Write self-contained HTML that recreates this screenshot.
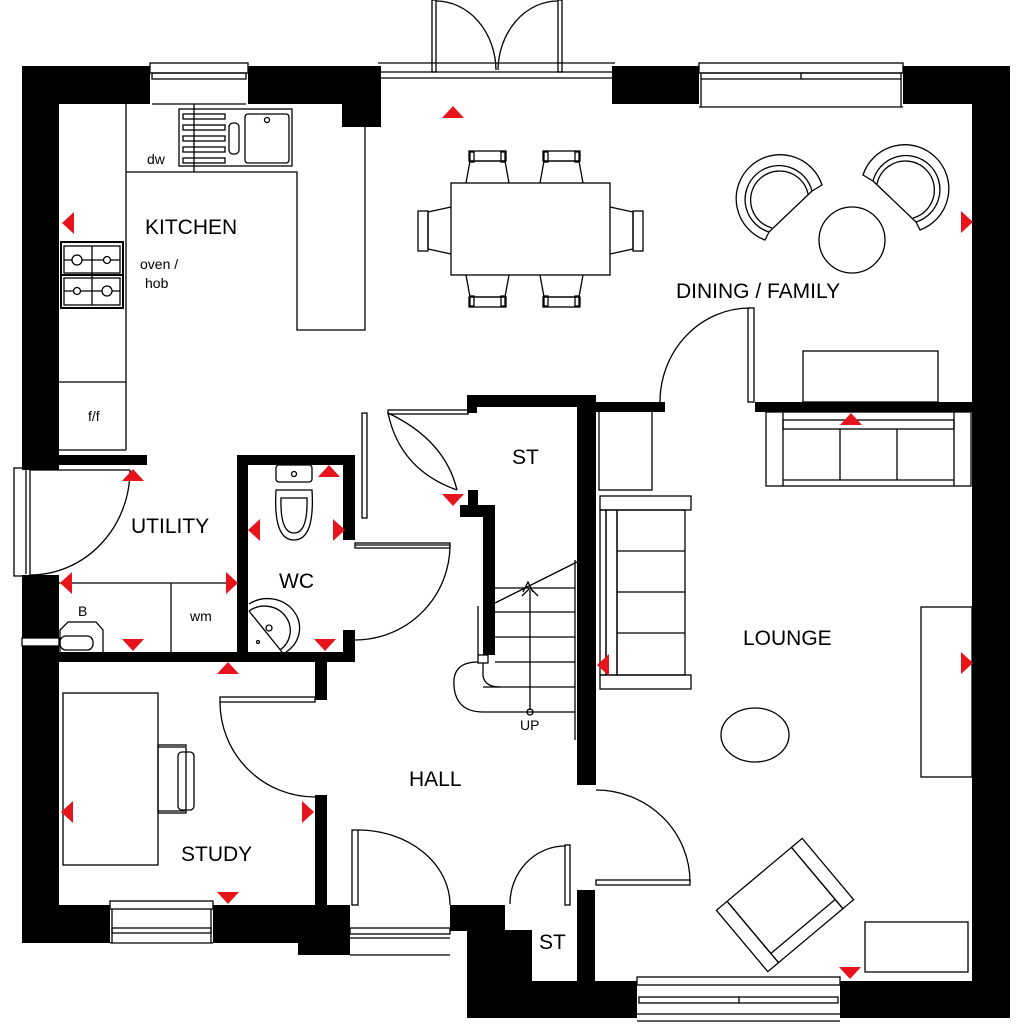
<!DOCTYPE html>
<html><head><meta charset="utf-8"><style>
html,body{margin:0;padding:0;background:#fff}
svg{display:block}
text{font-family:"Liberation Sans",Arial,sans-serif;fill:#000}
</style></head><body>
<svg width="1024" height="1024" viewBox="0 0 1024 1024" xmlns="http://www.w3.org/2000/svg">
<defs>
<polygon id="tu" points="-11,6 11,6 0,-6" fill="#e8141c"/>
<g id="arm" fill="none" stroke="#000" stroke-width="1.3">
<path d="M765,240 A44,44 0 1 1 822,185 L812,191 A34,34 0 1 0 769,232 Z"/>
<path d="M772,228 A29,29 0 1 1 808,194"/>
<line x1="769" y1="232" x2="812" y2="191"/>
</g>
</defs>
<rect width="1024" height="1024" fill="#fff"/>
<g fill="#000">
<rect x="22" y="66" width="128" height="38"/>
<rect x="248" y="66" width="133" height="38"/>
<rect x="342" y="100" width="39" height="27"/>
<rect x="612" y="66" width="87" height="38"/>
<rect x="903" y="66" width="107" height="38"/>
<rect x="972" y="66" width="38" height="952"/>
<rect x="22" y="66" width="37" height="404"/>
<rect x="22" y="575" width="37" height="63"/>
<rect x="22" y="646" width="37" height="297"/>
<rect x="22" y="905" width="88" height="38"/>
<rect x="213" y="905" width="137" height="38"/>
<rect x="298" y="930" width="52" height="25"/>
<rect x="450" y="905" width="55" height="26"/>
<rect x="467" y="930" width="65" height="88"/>
<rect x="467" y="981" width="170" height="37"/>
<rect x="840" y="981" width="170" height="37"/>
<rect x="22" y="455" width="125" height="10"/>
<rect x="237" y="455" width="118" height="10"/>
<rect x="237" y="455" width="11" height="207"/>
<rect x="343" y="455" width="12" height="85"/>
<rect x="343" y="630" width="12" height="32"/>
<rect x="59" y="652" width="296" height="10"/>
<rect x="315" y="652" width="12" height="48"/>
<rect x="315" y="795" width="12" height="110"/>
<rect x="467" y="395" width="123" height="12"/>
<rect x="467" y="395" width="10" height="18"/>
<rect x="460" y="505" width="35" height="12"/>
<rect x="483" y="505" width="12" height="150"/>
<rect x="468" y="490" width="10" height="27"/>
<rect x="577" y="395" width="19" height="390"/>
<rect x="577" y="890" width="18" height="91"/>
<rect x="590" y="402" width="75" height="10"/>
<rect x="755" y="402" width="217" height="10"/>
</g>
<g fill="none" stroke="#000" stroke-width="1.3">
<rect x="150" y="63" width="98" height="10" fill="#fff"/><rect x="152" y="73" width="94" height="6"/><line x1="152" y1="104" x2="246" y2="104"/>
<rect x="699" y="63" width="204" height="10"/><rect x="701" y="73" width="200" height="6"/><line x1="801" y1="73" x2="801" y2="79"/><line x1="699" y1="107" x2="903" y2="107"/><line x1="701" y1="79" x2="701" y2="107"/><line x1="901" y1="79" x2="901" y2="107"/>
<rect x="110" y="901" width="103" height="8"/><rect x="112" y="928" width="99" height="5"/><line x1="110" y1="943" x2="213" y2="943"/><line x1="112" y1="909" x2="112" y2="943"/><line x1="211" y1="909" x2="211" y2="943"/>
<rect x="350" y="928" width="100" height="6"/><line x1="350" y1="955" x2="450" y2="955"/><line x1="350" y1="938" x2="450" y2="938"/>
<rect x="637" y="977" width="203" height="8"/><rect x="639" y="997" width="199" height="6"/><line x1="739" y1="997" x2="739" y2="1003"/><line x1="637" y1="1014" x2="840" y2="1014"/><line x1="637" y1="1021" x2="840" y2="1021"/>
<rect x="14" y="468" width="16" height="108"/><line x1="26" y1="470" x2="26" y2="574"/>
<rect x="22" y="638" width="37" height="8"/>
<line x1="378" y1="63" x2="615" y2="63"/><line x1="381" y1="72" x2="612" y2="72"/><line x1="381" y1="78" x2="612" y2="78"/>
<rect x="432" y="0" width="4" height="72"/><rect x="558" y="0" width="4" height="72"/>
<path d="M436,1 A60,70 0 0 1 496,70"/><path d="M558,1 A60,70 0 0 0 498,70"/>
<line x1="126" y1="104" x2="126" y2="450"/><line x1="59" y1="382" x2="126" y2="382"/><line x1="59" y1="450" x2="126" y2="450"/>
<path d="M126,172 H297 V330 H365 V127"/>
<rect x="179" y="109" width="113" height="57"/>
<line x1="194" y1="104" x2="194" y2="172"/>
<rect x="183" y="114" width="42" height="5"/><rect x="183" y="125" width="42" height="5"/><rect x="183" y="136" width="42" height="5"/><rect x="183" y="147" width="42" height="5"/><rect x="183" y="158" width="42" height="5"/>
<rect x="229" y="123" width="10" height="31" rx="4"/><rect x="245" y="114" width="44" height="49" rx="3"/><circle cx="267" cy="120" r="2.5"/>
<rect x="61" y="242" width="62" height="66" stroke-width="2"/><line x1="61" y1="275" x2="123" y2="275" stroke-width="2"/>
<rect x="64" y="246" width="56" height="27"/><rect x="64" y="278" width="56" height="27"/>
<line x1="92" y1="246" x2="92" y2="305"/><line x1="64" y1="260" x2="120" y2="260"/><line x1="64" y1="291" x2="120" y2="291"/>
<circle cx="77" cy="260" r="5" fill="#fff"/><circle cx="107" cy="260" r="3.5" fill="#fff"/><circle cx="77" cy="291" r="3.5" fill="#fff"/><circle cx="107" cy="291" r="5" fill="#fff"/>
<path d="M30,470 H130 M30,575 A100,105 0 0 0 130,470"/>
<line x1="59" y1="583" x2="237" y2="583"/><line x1="171" y1="583" x2="171" y2="652"/>
<path d="M60,652 V630 L68,622 H96 L103,630 V652"/><rect x="60" y="636" width="33" height="14" rx="6"/>
<rect x="276" y="465" width="36" height="17" rx="3"/><circle cx="294" cy="474" r="2.5"/>
<path d="M276,490 Q273,540 294,540 Q315,540 312,490 Z"/><path d="M281,498 Q280,533 294,533 Q308,533 307,498 Z"/>
<path d="M249,604 A24,22 0 1 1 286,652"/><path d="M249,611 A19,18 0 1 1 280,650"/><circle cx="269" cy="628" r="3"/><circle cx="258" cy="642" r="1.5"/><line x1="249" y1="611" x2="282" y2="652"/>
<path d="M355,545 H450 M355,640 A95,95 0 0 0 450,545"/><rect x="355" y="543" width="95" height="5"/>
<rect x="362" y="413" width="5" height="105"/><rect x="388" y="410" width="80" height="4"/>
<path d="M388,413 Q400,470 457,490 M388,413 Q445,440 457,490"/>
<rect x="220" y="697" width="95" height="5"/><path d="M220,702 A95,95 0 0 0 315,797"/>
<rect x="352" y="830" width="6" height="75"/><path d="M358,830 A92,75 0 0 1 450,905"/>
<rect x="596" y="880" width="94" height="5"/><path d="M596,790 A94,92 0 0 1 690,882"/>
<rect x="748" y="308" width="6" height="94"/><path d="M750,308 A90,94 0 0 0 660,402"/>
<rect x="565" y="845" width="5" height="60"/><path d="M565,846 A55,58 0 0 0 510,904"/>
<line x1="575" y1="560" x2="575" y2="740"/><line x1="580" y1="560" x2="580" y2="740"/>
<line x1="495" y1="603" x2="577" y2="562"/>
<line x1="495" y1="588" x2="575" y2="588"/><line x1="495" y1="612" x2="575" y2="612"/><line x1="495" y1="637" x2="575" y2="637"/><line x1="495" y1="662" x2="575" y2="662"/><line x1="483" y1="687" x2="575" y2="687"/><line x1="483" y1="712" x2="575" y2="712"/>
<rect x="478" y="655" width="10" height="8"/><line x1="478" y1="606" x2="478" y2="655"/>
<path d="M478,662 Q452,662 454,686 Q456,712 483,712"/><path d="M483,663 V676 Q485,687 500,687"/>
<line x1="530" y1="590" x2="530" y2="710"/><path d="M522,596 L530,588 L538,596"/><path d="M523,592 L528,582 L533,592"/><circle cx="530" cy="712" r="3"/>
<rect x="451" y="183" width="159" height="92"/>
<g id="ch"><path d="M466,183 L470,161 H505 L509,183"/><rect x="469" y="151" width="37" height="10"/><rect x="470" y="152" width="4" height="10"/><rect x="501" y="152" width="4" height="10"/></g>
<use href="#ch" x="74"/>
<g transform="translate(0,458) scale(1,-1)"><use href="#ch"/><use href="#ch" x="74"/></g>
<path d="M451,207 L428,212 V249 L451,254"/><rect x="418" y="211" width="10" height="40"/>
<path d="M610,207 L633,212 V249 L610,254"/><rect x="633" y="211" width="10" height="40"/>
<circle cx="852" cy="240" r="33"/>
<rect x="803" y="351" width="135" height="51"/>
<rect x="599" y="408" width="53" height="82"/>
<rect x="600" y="496" width="91" height="14"/><rect x="600" y="675" width="91" height="14"/><rect x="600" y="510" width="6" height="165"/><rect x="606" y="510" width="11" height="165"/><rect x="617" y="510" width="68" height="165"/>
<line x1="617" y1="551" x2="685" y2="551"/><line x1="617" y1="592" x2="685" y2="592"/><line x1="617" y1="633" x2="685" y2="633"/>
<rect x="766" y="412" width="205" height="74"/><rect x="783" y="420" width="171" height="9"/><line x1="783" y1="412" x2="783" y2="486"/><line x1="954" y1="412" x2="954" y2="486"/><line x1="783" y1="480" x2="954" y2="480"/><line x1="840" y1="429" x2="840" y2="480"/><line x1="897" y1="429" x2="897" y2="480"/>
<ellipse cx="755" cy="735" rx="34" ry="27"/>
<rect x="921" y="607" width="51" height="170"/>
<rect x="865" y="922" width="103" height="50"/>
<g transform="translate(785,905) rotate(-40)"><rect x="-42" y="-40" width="84" height="80"/><rect x="-56" y="-40" width="14" height="80"/><rect x="42" y="-40" width="14" height="80"/><line x1="-42" y1="28" x2="42" y2="28"/></g>
<rect x="63" y="693" width="95" height="172"/>
<rect x="158" y="745" width="28" height="68"/><rect x="178" y="752" width="16" height="58" rx="4"/><line x1="158" y1="747" x2="185" y2="747"/><line x1="158" y1="811" x2="185" y2="811"/>
</g>
<use href="#arm"/>
<use href="#arm" transform="translate(1685,-10) scale(-1,1)"/>
<g>
<use href="#tu" x="453" y="112"/>
<use href="#tu" transform="translate(68,223) rotate(-90)"/>
<use href="#tu" transform="translate(967,222) rotate(90)"/>
<use href="#tu" x="133" y="475"/>
<use href="#tu" x="329" y="471"/>
<use href="#tu" transform="translate(254,530) rotate(-90)"/>
<use href="#tu" transform="translate(339,530) rotate(90)"/>
<use href="#tu" transform="translate(66,583) rotate(-90)"/>
<use href="#tu" transform="translate(232,583) rotate(90)"/>
<use href="#tu" transform="translate(133,645) rotate(180)"/>
<use href="#tu" transform="translate(325,645) rotate(180)"/>
<use href="#tu" x="228" y="668"/>
<use href="#tu" transform="translate(453,500) rotate(180)"/>
<use href="#tu" x="851" y="419"/>
<use href="#tu" transform="translate(603,665) rotate(-90)"/>
<use href="#tu" transform="translate(967,663) rotate(90)"/>
<use href="#tu" transform="translate(67,812) rotate(-90)"/>
<use href="#tu" transform="translate(308,812) rotate(90)"/>
<use href="#tu" transform="translate(228,898) rotate(180)"/>
<use href="#tu" transform="translate(850,973) rotate(180)"/>
</g>
<g font-size="21">
<text x="145" y="234">KITCHEN</text>
<text x="676" y="298">DINING / FAMILY</text>
<text x="512" y="464">ST</text>
<text x="131" y="533">UTILITY</text>
<text x="279" y="588">WC</text>
<text x="743" y="645">LOUNGE</text>
<text x="409" y="786">HALL</text>
<text x="181" y="861">STUDY</text>
<text x="539" y="949">ST</text>
</g>
<g font-size="14">
<text x="147" y="164">dw</text>
<text x="140" y="269">oven /</text>
<text x="145" y="288">hob</text>
<text x="88" y="421">f/f</text>
<text x="78" y="616">B</text>
<text x="190" y="621">wm</text>
<text x="520" y="730">UP</text>
</g>
</svg>
</body></html>
